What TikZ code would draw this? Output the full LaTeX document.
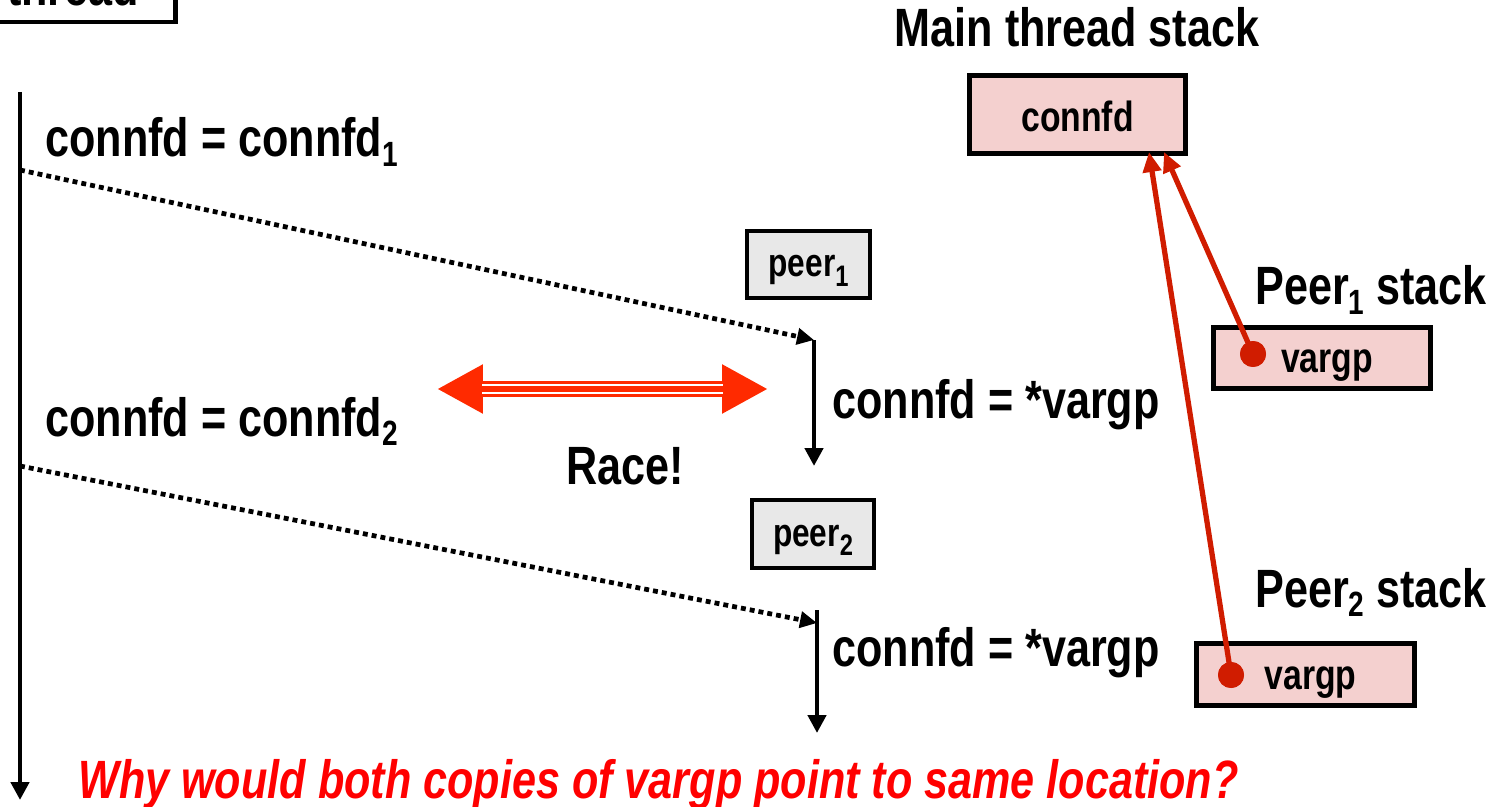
\documentclass[tikz,border=0pt]{standalone}
\usepackage{fontspec}
\setmainfont[FakeStretch=0.80]{Liberation Sans}
\usetikzlibrary{arrows.meta}
\definecolor{pinkfill}{RGB}{244,208,207}
\definecolor{grayfill}{RGB}{232,232,232}
\definecolor{ptrred}{RGB}{208,28,0}
\definecolor{racered}{RGB}{255,42,0}
\newcommand\subs[1]{\raisebox{-0.17em}{\scalebox{0.65}{#1}}}
\newcommand\psubs[1]{\raisebox{-0.25em}{\scalebox{0.75}{#1}}}
\begin{document}
\begin{tikzpicture}[x=0.02cm,y=-0.02cm,
  txt/.style={font=\bfseries\fontsize{30.7}{34}\selectfont, inner sep=0pt},
  stackbox/.style={draw, line width=2.6pt, fill=pinkfill, inner sep=0pt, font=\bfseries\fontsize{24}{26}\selectfont},
  peerbox/.style={draw, line width=2.5pt, fill=grayfill, inner sep=0pt, font=\bfseries\fontsize{22.5}{24}\selectfont, text height=0.62cm, text depth=0.14cm},
  timeline/.style={line width=2.8pt, -{Triangle[length=0.36cm,width=0.36cm]}},
  spawn/.style={line width=2.7pt, dash pattern=on 2.8pt off 2.3pt, -{Triangle[length=0.34cm,width=0.32cm]}},
  ptr/.style={ptrred, line width=3pt, -{Triangle[length=0.4cm,width=0.36cm]}},
  dot/.style={circle, fill=ptrred, minimum size=0.52cm, inner sep=0pt},
]
\useasboundingbox (0,0) rectangle (1500,807);
\clip (0,0) rectangle (1500,807);

% thread box (cut off at top)
\node[draw, line width=2.6pt, minimum width=4.2cm, minimum height=2cm, anchor=south east] (threadbox) at (177.5,24.5) {};
\node[txt, anchor=base] (threadlbl) at (73,6) {thread};

% main timeline
\coordinate (mtop) at (20,92);
\coordinate (mbot) at (20,800);
\draw[timeline] (mtop) -- (mbot);

\node[txt, anchor=base west] (c1) at (45,157) {connfd = connfd\subs{1}};
\node[txt, anchor=base west] (c2) at (45,436) {connfd = connfd\subs{2}};

% peer 1
\node[peerbox, minimum width=2.46cm, minimum height=1.34cm] (peer1) at (808.5,264.5) {peer\psubs{1}};
\coordinate (s1) at (20,170);
\coordinate (p1top) at (814,340);
\coordinate (p1bot) at (814,466);
\draw[spawn] (s1) -- (p1top);
\draw[timeline] (p1top) -- (p1bot);
\node[txt, anchor=base west] (v1) at (832,418) {connfd = *vargp};

% peer 2
\node[peerbox, minimum width=2.44cm, minimum height=1.36cm] (peer2) at (813,534) {peer\psubs{2}};
\coordinate (s2) at (20,466);
\coordinate (p2top) at (817,623);
\coordinate (p2bot) at (817,733);
\draw[spawn] (s2) -- (p2top);
\draw[timeline] (817,610) -- (p2bot);
\node[txt, anchor=base west] (v2) at (832,666) {connfd = *vargp};

% race arrow
\coordinate (raceL) at (437,389);
\coordinate (raceR) at (768,389);
\draw[racered, line width=0.34cm, {Triangle[length=0.92cm,width=0.92cm]}-{Triangle[length=0.92cm,width=0.92cm]}] (raceL) -- (raceR);
\draw[white, line width=0.9pt] (482,385) -- (723,385);
\draw[white, line width=0.9pt] (482,393) -- (723,393);
\node[txt, anchor=base] (race) at (625,484) {Race!};

% stacks
\node[txt, anchor=base] (mainlbl) at (1077,47) {Main thread stack};
\node[stackbox, minimum width=4.32cm, minimum height=1.56cm, text height=0.8cm, text depth=0.1cm] (mainbox) at (1077.5,114.5) {connfd};

\node[txt, anchor=base west] (peer1lbl) at (1255,305) {Peer\subs{1} stack};
\node[stackbox, minimum width=4.34cm, minimum height=1.22cm, text height=0.7cm, text depth=0.1cm] (vbox1) at (1322,358) {\hspace*{0.2cm}vargp};
\node[dot] (d1) at (1253,354) {};

\node[txt, anchor=base west] (peer2lbl) at (1255,607) {Peer\subs{2} stack};
\node[stackbox, minimum width=4.36cm, minimum height=1.24cm, text height=0.7cm, text depth=0.1cm] (vbox2) at (1305.5,674.5) {\hspace*{0.2cm}vargp};
\node[dot] (d2) at (1231,675) {};

\coordinate (t1) at (1164,152);
\coordinate (t2) at (1149,152);
\draw[ptr] (d1.center) -- (t1);
\draw[ptr] (d2.center) -- (t2);
\node[dot] at (d1) {};
\node[dot] at (d2) {};

\node[anchor=base west, inner sep=0pt, font=\bfseries\itshape\fontsize{30.7}{34}\selectfont, text={rgb,255:red,255;green,0;blue,0}] (why) at (78,798) {Why would both copies of vargp point to same location?};
\end{tikzpicture}
\end{document}
